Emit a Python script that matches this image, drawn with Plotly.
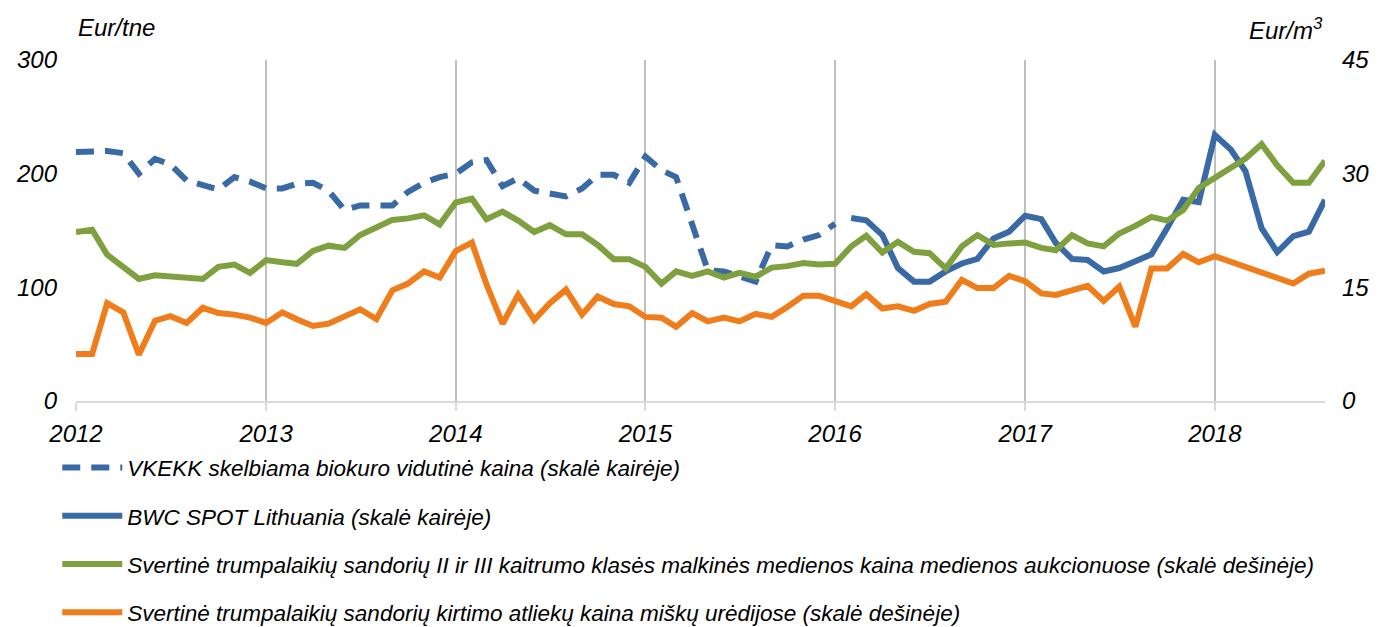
import pandas as pd
import plotly.graph_objects as go

# ---- data (monthly) ----
vkekk_start = "2012-01-01"
vkekk = [219, 219, 220, 218, 200, 213, 208, 194, 190, 186, 197, 193,
         187, 187, 191, 192, 185, 168, 172, 172, 172, 184, 192, 197,
         200, 210, 212, 189, 196, 185, 182, 180, 187, 199, 199, 192,
         215, 203, 197, 157, 115, 114, 109, 105, 137, 136, 142, 146,
         156]

bwc_start = "2016-02-01"
bwc = [161, 159, 146, 117, 105, 105, 114, 121, 125, 143, 149,
       163, 160, 139, 125, 124, 114, 117, 123, 129, 152, 177, 175,
       234, 221, 202, 152, 131, 145, 149, 177]

green_start = "2012-01-01"
green = [22.3, 22.6, 19.3, 17.7, 16.1, 16.6, 16.5, 16.4, 16.1, 17.7, 18.0, 16.9,
         18.6, 18.3, 18.1, 19.8, 20.5, 20.2, 21.9, 22.9, 23.9, 24.1, 24.5, 23.3,
         26.2, 26.7, 24.0, 25.0, 23.8, 22.3, 23.2, 22.0, 22.0, 20.6, 18.7, 18.7,
         17.7, 15.5, 17.1, 16.5, 17.1, 16.3, 16.9, 16.4, 17.6, 17.8, 18.2, 18.0,
         18.1, 20.4, 21.8, 19.6, 21.0, 19.7, 19.5, 17.5, 20.4, 21.9, 20.6, 20.8,
         20.9, 20.2, 19.9, 21.9, 20.8, 20.4, 22.1, 23.1, 24.3, 23.8, 25.2, 28.1,
         29.4, 30.7, 32.0, 33.9, 31.1, 28.8, 28.8, 31.7]

orange_start = "2012-01-01"
orange = [6.2, 6.2, 12.9, 11.7, 6.1, 10.6, 11.2, 10.3, 12.3, 11.6, 11.4, 11.0,
          10.3, 11.7, 10.8, 9.9, 10.2, 11.1, 12.1, 10.8, 14.6, 15.5, 17.1, 16.3,
          19.8, 20.9, 15.4, 10.2, 14.0, 10.7, 12.9, 14.7, 11.4, 13.8, 12.8, 12.5,
          11.1, 11.0, 9.8, 11.6, 10.5, 11.0, 10.5, 11.5, 11.1, 12.4, 13.9, 13.9,
          13.1, 12.5, 14.1, 12.2, 12.5, 11.9, 12.8, 13.1, 16.0, 14.9, 14.9, 16.5,
          15.8, 14.2, 14.0, 14.6, 15.2, 13.2, 15.1, 9.8, 17.5, 17.5, 19.4, 18.3,
          19.1, None, None, None, None, 15.5, 16.8, 17.2]

names = [
    "VKEKK skelbiama biokuro vidutinė kaina (skalė kairėje)",
    "BWC SPOT Lithuania (skalė kairėje)",
    "Svertinė trumpalaikių sandorių II ir III kaitrumo klasės malkinės medienos kaina medienos aukcionuose (skalė dešinėje)",
    "Svertinė trumpalaikių sandorių kirtimo atliekų kaina miškų urėdijose (skalė dešinėje)",
]

left_ticks = [0, 100, 200, 300]
right_ticks = [0, 15, 30, 45]
year_ticks = ["2012", "2013", "2014", "2015", "2016", "2017", "2018"]

def months(start, n):
    return pd.date_range(start, periods=n, freq="MS")

FONT = "Liberation Sans, Arial, sans-serif"
BLUE = "#3a6aa5"
GREEN = "#7ea03f"
ORANGE = "#ef7d1c"

fig = go.Figure()
fig.add_trace(go.Scatter(x=months(vkekk_start, len(vkekk)), y=vkekk, name=names[0],
                         mode="lines", line=dict(color=BLUE, width=6, dash="18px,11px"),
                         legendgroup="a", yaxis="y"))
fig.add_trace(go.Scatter(x=months(bwc_start, len(bwc)), y=bwc, name=names[1],
                         mode="lines", line=dict(color=BLUE, width=6),
                         legendgroup="b", yaxis="y"))
fig.add_trace(go.Scatter(x=months(green_start, len(green)), y=green, name=names[2],
                         mode="lines", line=dict(color=GREEN, width=6),
                         legendgroup="c", yaxis="y2"))
fig.add_trace(go.Scatter(x=months(orange_start, len(orange)), y=orange, name=names[3],
                         mode="lines", line=dict(color=ORANGE, width=6),
                         connectgaps=True, legendgroup="d", yaxis="y2"))

tickfont = dict(family=FONT, size=24, color="black", style="italic")

fig.update_layout(
    width=1395, height=627,
    margin=dict(l=76, r=70, t=60, b=226, autoexpand=False),
    paper_bgcolor="white", plot_bgcolor="white",
    showlegend=True,
    legend=dict(orientation="v", x=-0.015, xanchor="left", y=-0.133, yanchor="top",
                font=dict(family=FONT, size=22.5, color="black", style="italic"),
                tracegroupgap=16, bgcolor="rgba(0,0,0,0)", itemwidth=60),
    xaxis=dict(type="date", range=["2012-01-01", "2018-08-01"],
               tickvals=[f"{y}-01-01" for y in year_ticks], ticktext=year_ticks,
               showgrid=True, gridcolor="#bfbfbf", gridwidth=2,
               showline=True, linecolor="#d9d9d9", linewidth=2,
               ticks="outside", ticklen=8, tickcolor="#d9d9d9", tickwidth=2,
               tickfont=tickfont, zeroline=False, ticklabelstandoff=2),
    yaxis=dict(range=[0, 300], tickvals=left_ticks, showgrid=False, zeroline=False,
               showline=False, ticks="", tickfont=tickfont, ticklabelstandoff=18),
    yaxis2=dict(range=[0, 45], tickvals=right_ticks, overlaying="y", side="right",
                showgrid=False, zeroline=False, showline=False, ticks="",
                tickfont=tickfont, ticklabelstandoff=16),
    annotations=[
        dict(text="Eur/tne", xref="paper", yref="paper", x=0, y=1.0, yshift=33,
             xanchor="left", yanchor="middle", showarrow=False,
             font=dict(family=FONT, size=24, color="black", style="italic")),
        dict(text="Eur/m<sup>3</sup>", xref="paper", yref="paper", x=1, y=1.0, yshift=31,
             xanchor="right", yanchor="middle", showarrow=False,
             font=dict(family=FONT, size=24, color="black", style="italic")),
    ],
)

fig.write_html("out.html", config={"displayModeBar": False},
               post_script="document.body.style.margin='0';")
